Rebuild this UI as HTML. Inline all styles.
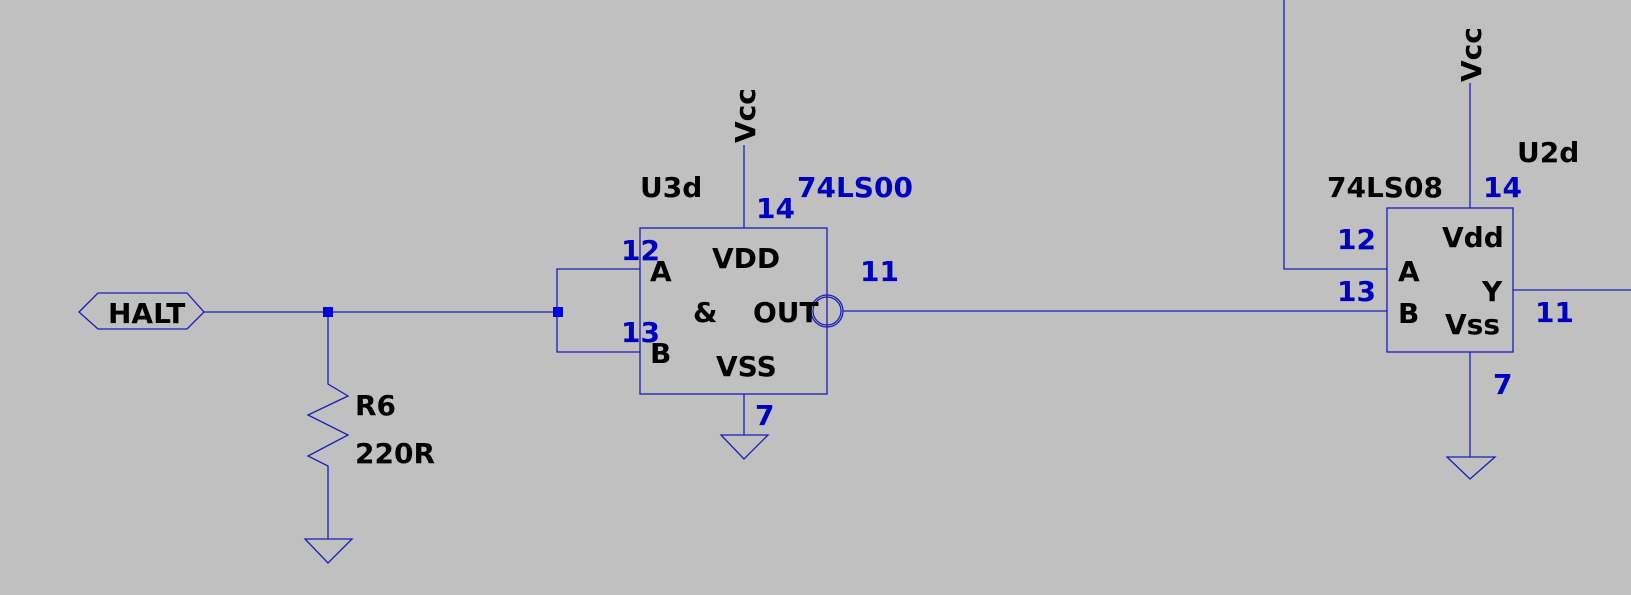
<!DOCTYPE html>
<html><head><meta charset="utf-8"><style>
html,body{margin:0;padding:0;background:#c0c0c0;}
svg{display:block;}
text{font-family:"DejaVu Sans","Liberation Sans",sans-serif;font-weight:bold;font-size:28px;}
.k{fill:#000;}
.b{fill:#0000c0;}
</style></head><body>
<svg width="1631" height="595" viewBox="0 0 1631 595" xmlns="http://www.w3.org/2000/svg">
<rect width="1631" height="595" fill="#c0c0c0"/>
<g stroke="#1c1cb4" stroke-width="1.3" fill="none">
<polygon points="79,312 98,293 187,293 204,312 187,329 98,329"/>
<line x1="204" y1="312" x2="558" y2="312"/>
<polyline points="328,312 328,384 348,396 308,415 348,435 308,456 328,466 328,539"/>
<polygon points="305,539 352,539 328,563"/>
<polyline points="640,269 557,269 557,352 640,352"/>
<rect x="640" y="228" width="187" height="166"/>
<line x1="744" y1="145" x2="744" y2="228"/>
<line x1="744" y1="394" x2="744" y2="435"/>
<polygon points="721,435 768,435 744,459"/>
<circle cx="827" cy="311" r="16"/>
<circle cx="827" cy="311" r="14"/>
<line x1="843" y1="311" x2="1387" y2="311"/>
<polyline points="1284,0 1284,269 1387,269"/>
<rect x="1387" y="208" width="126" height="144"/>
<line x1="1470" y1="83" x2="1470" y2="208"/>
<line x1="1470" y1="352" x2="1470" y2="457"/>
<polygon points="1447,457 1495,457 1470,479"/>
<line x1="1513" y1="290" x2="1631" y2="290"/>
</g>
<rect x="323" y="307" width="10" height="10" fill="#0000e0"/>
<rect x="553" y="307" width="10" height="10" fill="#0000e0"/>
<text class="k" x="108" y="323">HALT</text>
<text class="k" x="355" y="415">R6</text>
<text class="k" x="355" y="463">220R</text>
<text class="k" x="640" y="197">U3d</text>
<text class="b" x="797" y="197">74LS00</text>
<text class="b" x="756" y="218">14</text>
<text class="b" x="621" y="260">12</text>
<text class="k" x="650" y="281">A</text>
<text class="k" x="712" y="268">VDD</text>
<text class="b" x="860" y="281">11</text>
<text class="k" x="693" y="322">&amp;</text>
<text class="k" x="753" y="322">OUT</text>
<text class="b" x="621" y="342">13</text>
<text class="k" x="650" y="363">B</text>
<text class="k" x="716" y="376">VSS</text>
<text class="b" x="755" y="425">7</text>
<text class="k" transform="translate(755,143) rotate(-90)">Vcc</text>
<text class="k" transform="translate(1481,82) rotate(-90)">Vcc</text>
<text class="k" x="1327" y="197">74LS08</text>
<text class="k" x="1517" y="162">U2d</text>
<text class="b" x="1483" y="197">14</text>
<text class="k" x="1442" y="247">Vdd</text>
<text class="b" x="1337" y="249">12</text>
<text class="k" x="1398" y="281">A</text>
<text class="b" x="1337" y="301">13</text>
<text class="k" x="1482" y="301">Y</text>
<text class="k" x="1398" y="323">B</text>
<text class="k" x="1445" y="334">Vss</text>
<text class="b" x="1535" y="322">11</text>
<text class="b" x="1493" y="394">7</text>
</svg>
</body></html>
